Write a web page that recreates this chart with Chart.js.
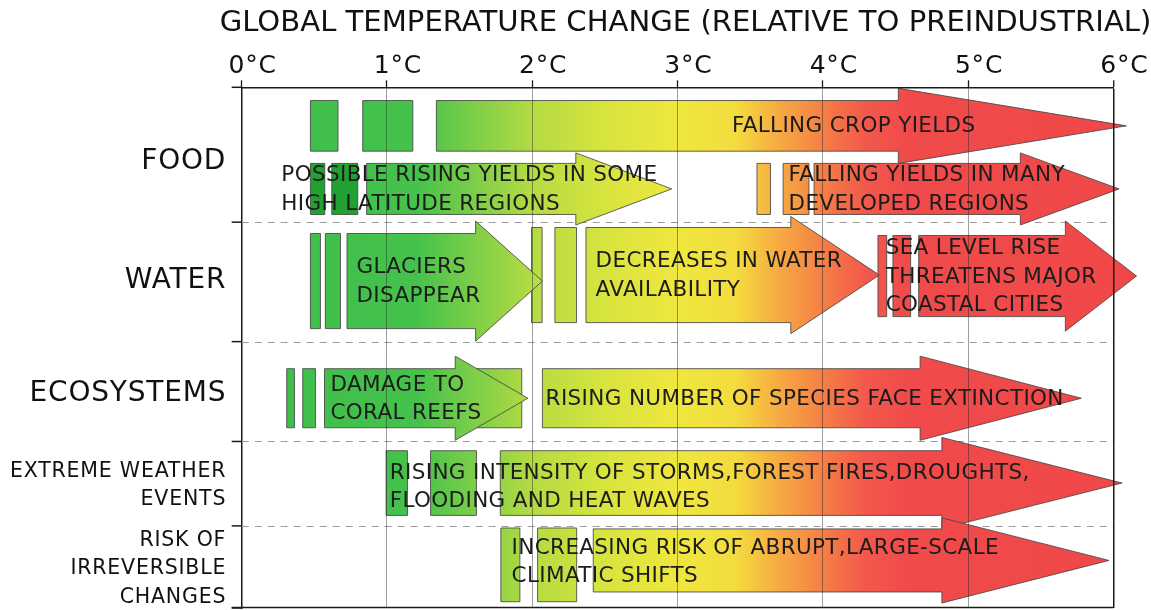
<!DOCTYPE html>
<html>
<head>
<meta charset="utf-8">
<script src="https://cdn.jsdelivr.net/npm/chart.js@4.4.1/dist/chart.umd.min.js"></script>
<style>
  html,body{margin:0;padding:0;background:#fff;}
  #wrap{width:1151px;height:610px;position:relative;}
</style>
</head>
<body>
<div id="wrap"><canvas id="c"></canvas></div>
<script>
// ---------- DATA ----------
const axisTitle = 'GLOBAL TEMPERATURE CHANGE (RELATIVE TO PREINDUSTRIAL)';
const tempTicks = [0, 1, 2, 3, 4, 5, 6];
const tickLabels = ['0°C', '1°C', '2°C', '3°C', '4°C', '5°C', '6°C'];
const rowNames = ['FOOD', 'WATER', 'ECOSYSTEMS', ['EXTREME WEATHER', 'EVENTS'], ['RISK OF', 'IRREVERSIBLE', 'CHANGES']];
const rowEdges = [0, 134.7, 254, 353.7, 438, 520];   // y-axis units (depth below top)

// arrows (temperatures in °C)
const arrowLabels = [
  ['FALLING CROP YIELDS'],
  ['POSSIBLE RISING YIELDS IN SOME', 'HIGH LATITUDE REGIONS'],
  ['FALLING YIELDS IN MANY', 'DEVELOPED REGIONS'],
  ['GLACIERS', 'DISAPPEAR'],
  ['DECREASES IN WATER', 'AVAILABILITY'],
  ['SEA LEVEL RISE', 'THREATENS MAJOR', 'COASTAL CITIES'],
  ['DAMAGE TO', 'CORAL REEFS'],
  ['RISING NUMBER OF SPECIES FACE EXTINCTION'],
  ['RISING INTENSITY OF STORMS,FOREST FIRES,DROUGHTS,', 'FLOODING AND HEAT WAVES'],
  ['INCREASING RISK OF ABRUPT,LARGE-SCALE', 'CLIMATIC SHIFTS']
];
const arrowLane = ['food1', 'food2', 'food2', 'waterA', 'waterB', 'sea', 'eco', 'eco', 'extreme', 'risk'];
const arrowFrom = [1.34, 0.86, 3.94, 0.725, 2.37, 4.66, 0.57, 2.07, 1.78, 2.42];
const arrowHead = [4.52, 2.30, 5.36, 1.61, 3.78, 5.67, 1.47, 4.67, 4.82, 4.82];
const arrowTip  = [6.09, 2.96, 6.04, 2.07, 4.39, 6.16, 1.97, 5.78, 6.06, 5.97];
const labelFrom = [3.375, 0.273, 3.764, 0.790, 2.436, 4.433, 0.611, 2.092, 1.019, 1.858];

// small bars (temperatures in °C)
const markerLane = ['food1', 'food1', 'food2dark', 'food2dark', 'food2', 'food2', 'waterA', 'waterA', 'waterB', 'waterB',
                    'sea', 'sea', 'eco', 'eco', 'eco', 'extreme', 'extreme', 'riskBar', 'riskBar'];
const markerFrom = [0.473, 0.833, 0.473, 0.620, 3.547, 3.727, 0.473, 0.576, 1.995, 2.156,
                    4.380, 4.483, 0.310, 0.420, 1.472, 0.994, 1.300, 1.784, 2.037];
const markerTo   = [0.663, 1.178, 0.572, 0.799, 3.640, 3.905, 0.542, 0.680, 2.068, 2.305,
                    4.440, 4.605, 0.363, 0.508, 1.928, 1.141, 1.616, 1.915, 2.306];

// ---------- LAYOUT / STYLE ----------
const rowLabelDepth = [74, 193, 306, 398, 481];
const lanes = {
  food1:     {c: 38.5,  shaft: 25.3, head: 37.5},
  food2:     {c: 101.5, shaft: 25.5, head: 36},
  food2dark: {c: 101.5, shaft: 25.5, head: 36, fill: '#21a131'},
  waterA:    {c: 193.5, shaft: 47.5, head: 60},
  waterB:    {c: 187.5, shaft: 47.5, head: 58.5},
  sea:       {c: 188.5, shaft: 40.5, head: 55},
  eco:       {c: 310.5, shaft: 29.5, head: 42},
  extreme:   {c: 395.2, shaft: 32.3, head: 45.5},
  risk:      {c: 472.5, shaft: 31.5, head: 42.5},
  riskBar:   {c: 476.9, shaft: 36.8, head: 36.8}
};
const textLift = {extreme: 3.5, risk: 1};
const gradStops = [
  [0.0, '#3dbd4a'], [1.2, '#44c24c'], [1.6, '#7dce48'], [2.0, '#b4db43'], [2.5, '#d8e43e'],
  [3.0, '#efe73e'], [3.4, '#f4dc3e'], [3.7, '#f7aa42'], [4.0, '#f57f46'], [4.3, '#f2584c'],
  [4.6, '#f04a4a'], [6.3, '#f04848']
];
const FONT = '"DejaVu Sans", sans-serif';
Chart.defaults.font.family = FONT;

const impactsPlugin = {
  id: 'impacts',
  beforeDraw(chart) { chart.ctx.letterSpacing = '0.8px'; },
  beforeDatasetsDraw(chart) {
    const {ctx, chartArea: a} = chart;
    const x = chart.scales.x, y = chart.scales.y;
    ctx.save();
    // dashed row separators
    ctx.strokeStyle = '#9c9c9c';
    ctx.lineWidth = 1;
    ctx.setLineDash([7, 6]);
    for (let i = 1; i < rowEdges.length - 1; i++) {
      const py = Math.round(y.getPixelForValue(rowEdges[i])) + 0.5;
      ctx.beginPath(); ctx.moveTo(a.left, py); ctx.lineTo(a.right, py); ctx.stroke();
    }
    ctx.setLineDash([]);
    // outer tick marks and bottom border
    ctx.strokeStyle = '#1a1a1a';
    ctx.lineWidth = 1.5;
    for (let i = 0; i < rowEdges.length; i++) {
      const py = y.getPixelForValue(rowEdges[i]);
      ctx.beginPath(); ctx.moveTo(a.left - 10, py); ctx.lineTo(a.left, py); ctx.stroke();
    }
    ctx.beginPath(); ctx.moveTo(a.left - 10, a.bottom - 0.5); ctx.lineTo(a.right, a.bottom - 0.5); ctx.stroke();

    // gradient along temperature
    const g0 = x.getPixelForValue(0), g1 = x.getPixelForValue(6.3);
    const grad = ctx.createLinearGradient(g0, 0, g1, 0);
    gradStops.forEach(([t, col]) => grad.addColorStop(t / 6.3, col));

    ctx.lineWidth = 1;
    ctx.strokeStyle = 'rgba(70,70,70,0.85)';
    // bars
    markerLane.forEach((ln, i) => {
      const L = lanes[ln];
      const x0 = x.getPixelForValue(markerFrom[i]), x1 = x.getPixelForValue(markerTo[i]);
      const y0 = y.getPixelForValue(L.c - L.shaft), y1 = y.getPixelForValue(L.c + L.shaft);
      ctx.fillStyle = L.fill || grad;
      ctx.beginPath(); ctx.rect(x0, y0, x1 - x0, y1 - y0); ctx.fill(); ctx.stroke();
    });
    // arrows
    arrowLane.forEach((ln, i) => {
      const L = lanes[ln];
      const x0 = x.getPixelForValue(arrowFrom[i]);
      const xh = x.getPixelForValue(arrowHead[i]);
      const xt = x.getPixelForValue(arrowTip[i]);
      const yc = y.getPixelForValue(L.c);
      const ys0 = y.getPixelForValue(L.c - L.shaft), ys1 = y.getPixelForValue(L.c + L.shaft);
      const yh0 = y.getPixelForValue(L.c - L.head), yh1 = y.getPixelForValue(L.c + L.head);
      ctx.fillStyle = grad;
      ctx.beginPath();
      ctx.moveTo(x0, ys0); ctx.lineTo(xh, ys0); ctx.lineTo(xh, yh0); ctx.lineTo(xt, yc);
      ctx.lineTo(xh, yh1); ctx.lineTo(xh, ys1); ctx.lineTo(x0, ys1); ctx.closePath();
      ctx.fill(); ctx.stroke();
    });
    ctx.restore();
  },
  afterDraw(chart) {
    const {ctx} = chart;
    const x = chart.scales.x, y = chart.scales.y;
    ctx.save();
    // axis title (drawn here so it may extend past the plot width, as in the original)
    ctx.letterSpacing = '0px';
    ctx.font = '29.1px ' + FONT;
    ctx.fillStyle = '#111';
    ctx.textAlign = 'center';
    ctx.textBaseline = 'middle';
    ctx.fillText(axisTitle, x.getPixelForValue(3) + 8, 23);

    ctx.letterSpacing = '0.35px';
    ctx.font = '21.5px ' + FONT;
    ctx.fillStyle = '#1c1c1c';
    ctx.textAlign = 'left';
    const lh = 28.5;
    arrowLabels.forEach((lines, i) => {
      const L = lanes[arrowLane[i]];
      const yc = y.getPixelForValue(L.c) + (textLift[arrowLane[i]] || 0);
      const px = x.getPixelForValue(labelFrom[i]);
      const top = yc - (lines.length - 1) * lh / 2;
      lines.forEach((s, k) => ctx.fillText(s, px, top + k * lh + 1));
    });
    ctx.restore();
    ctx.letterSpacing = '0px';
  }
};

new Chart(document.getElementById('c'), {
  type: 'scatter',
  data: {datasets: [{data: []}]},
  plugins: [impactsPlugin],
  options: {
    responsive: true,
    maintainAspectRatio: false,
    animation: false,
    layout: {padding: {left: 0, right: 37.7, top: 0, bottom: 2}},
    plugins: {legend: {display: false}, tooltip: {enabled: false}},
    scales: {
      x: {
        type: 'linear', position: 'top', min: 0, max: 6,
        afterBuildTicks: s => { s.ticks = tempTicks.map(v => ({value: v})); },
        afterFit: s => { s.height = 87.3; s.paddingLeft = 0; s.paddingRight = 0; },
        ticks: {z: 1, callback: (v, i) => tickLabels[i], font: {size: 25}, color: '#111', padding: -1, labelOffset: 11, maxRotation: 0},
        grid: {
          z: 1,
          color: c => c.index === 0 ? 'rgba(0,0,0,0)' : (c.index === tempTicks.length - 1 ? '#1a1a1a' : 'rgba(40,40,40,0.45)'),
          lineWidth: c => c.index === tempTicks.length - 1 ? 1.5 : 1,
          tickLength: 7, tickColor: '#1a1a1a', tickWidth: 1.3
        },
        border: {z: 1, color: '#1a1a1a', width: 1.5},
        title: {display: false, text: axisTitle}
      },
      y: {
        type: 'linear', position: 'left', reverse: true, min: 0, max: 520,
        afterBuildTicks: s => { s.ticks = rowLabelDepth.map(v => ({value: v})); },
        afterFit: s => { s.width = 241.7; s.paddingTop = 0; s.paddingBottom = 0; },
        ticks: {
          callback: (v, i) => rowNames[i],
          font: c => (c.index < 3 ? {size: 28, lineHeight: 1.2} : {size: 20.5, lineHeight: 1.38}),
          color: '#111', padding: 15.5
        },
        grid: {display: false, drawTicks: false},
        border: {color: '#1a1a1a', width: 1.5}
      }
    }
  }
});
</script>
</body>
</html>
